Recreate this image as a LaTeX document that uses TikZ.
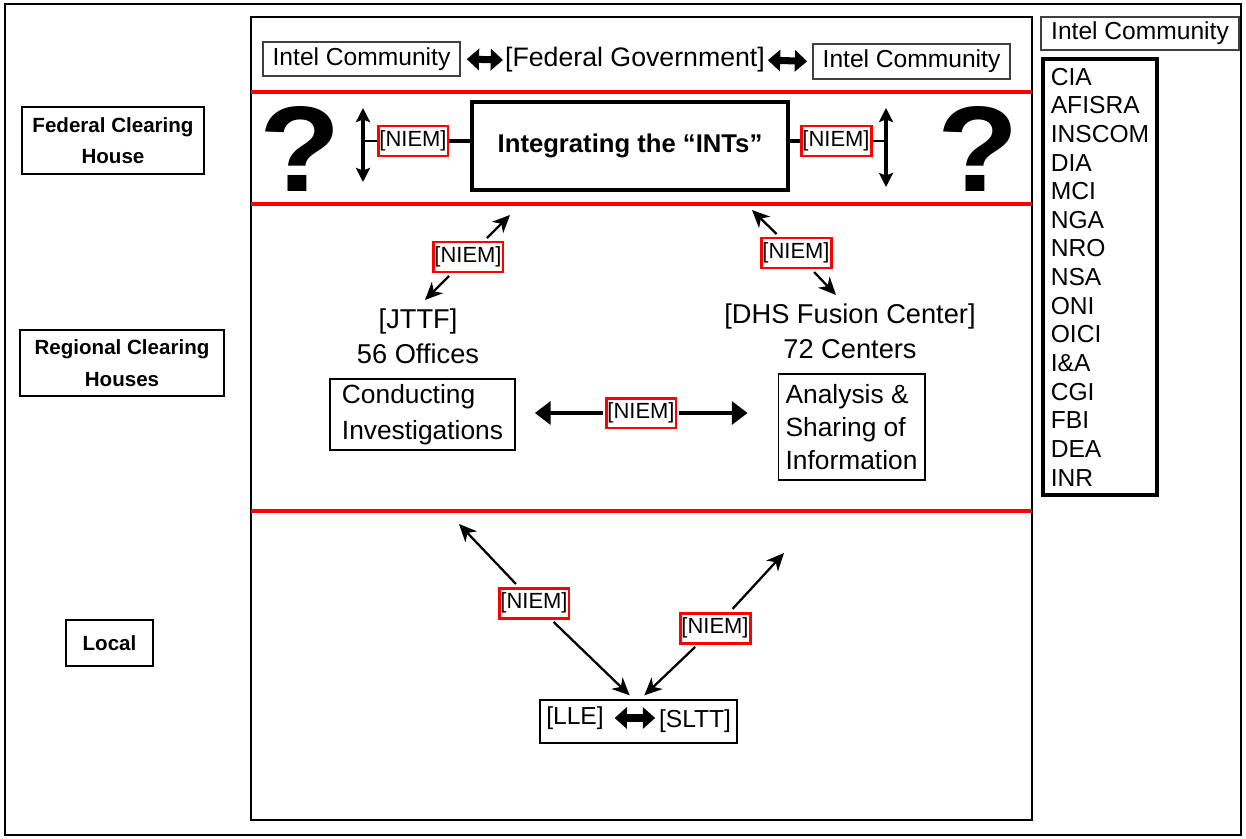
\documentclass[tikz,border=0pt]{standalone}
\usepackage{fontspec}
\setmainfont{Liberation Sans}
\usetikzlibrary{arrows.meta,positioning}

\begin{document}
\begin{tikzpicture}[
    x=0.02cm, y=-0.02cm,
    level/.style={rectangle, draw, line width=1.1pt, align=center, inner sep=0pt, font=\fontsize{11.7}{18}\selectfont\bfseries},
    intel/.style={rectangle, draw=black!75, line width=0.7pt, minimum width=3.94cm, minimum height=0.68cm, inner sep=0pt, font=\fontsize{14}{16}\selectfont},
    niem/.style={rectangle, draw=red, line width=1.7pt, fill=white, minimum width=1.4cm, minimum height=0.6cm, inner sep=0pt, font=\fontsize{12.5}{14}\selectfont},
    txt/.style={inner sep=0pt, align=center, font=\fontsize{15.5}{20}\selectfont},
    boxed/.style={rectangle, draw, line width=0.6pt, align=left, inner sep=0pt, font=\fontsize{15}{20}\selectfont},
    quest/.style={inner sep=0pt, xscale=1.15, yscale=1.05, font=\fontsize{66}{66}\selectfont\bfseries},
    redline/.style={red, line width=2.5pt},
    arrow/.style={line width=1.3pt, -{Stealth[length=10pt,width=9pt,inset=3pt]}},
    both/.style={line width=1.8pt, {Stealth[length=8pt,width=8pt,inset=1.5pt]}-{Stealth[length=8pt,width=8pt,inset=1.5pt]}},
    wide/.style={line width=2.3pt, {Triangle[length=8pt,width=12pt]}-{Triangle[length=8pt,width=12pt]}},
    fat/.style={line width=4pt, {Triangle[length=7pt,width=12pt]}-{Triangle[length=7pt,width=12pt]}}
]
    \useasboundingbox (0,0) rectangle (1246,838);

    % Frames and red dividers
    \draw [line width=1.1pt] (5,4) rectangle (1241,835);
    \draw [line width=1.2pt] (251,17) rectangle (1032,820);
    \draw [redline] (251,92) -- (1032,92);
    \draw [redline] (251,204) -- (1032,204);
    \draw [redline] (251,511) -- (1032,511);

    % Levels
    \node [level, minimum width=3.64cm, minimum height=1.34cm] (fch) at (113,140.5) {Federal Clearing\\House};
    \node [level, minimum width=4.08cm, minimum height=1.32cm] (rch) at (122,363) {Regional Clearing\\Houses};
    \node [level, minimum width=1.74cm, minimum height=0.92cm] (loc) at (109.5,643) {Local};

    % Federal government row
    \node [intel] (icl) at (361.5,59) {Intel Community};
    \node [txt, font=\fontsize{15.2}{18}\selectfont] (fed) at (635,60) {[Federal Government]};
    \node [intel, minimum height=0.7cm] (icr) at (911.5,61.5) {Intel Community};
    \draw [fat, shorten <=3.5pt, shorten >=1pt] (icl.east) -- (fed.west);
    \draw [fat, shorten <=1.5pt, shorten >=3pt] (fed.east) -- (icr.west);

    % Federal clearing house
    \node [quest] (ql) at (300,149) {?};
    \node [quest] (qr) at (978,149) {?};
    \node [rectangle, draw, line width=2.3pt, minimum width=6.32cm, minimum height=1.76cm, inner sep=0pt, font=\fontsize{14.6}{16}\selectfont\bfseries] (ints) at (630,146) {Integrating the “INTs”};
    \node [niem] (niemL) at (413,141) {[NIEM]};
    \node [niem] (niemR) at (836,141) {[NIEM]};
    \coordinate (qa) at (363,108);
    \coordinate (qb) at (363,182);
    \coordinate (qc) at (886,108);
    \coordinate (qd) at (886,187);
    \draw [both] (qa) -- (qb);
    \draw [both] (qc) -- (qd);
    \draw [line width=1.5pt] (niemL.west) -- (niemL.west -| qa);
    \draw [line width=2.3pt] (niemL.east) -- (niemL.east -| ints.west);
    \draw [line width=2.3pt] (niemR.west) -- (niemR.west -| ints.east);
    \draw [line width=1.5pt] (niemR.east) -- (niemR.east -| qc);

    % Regional clearing houses
    \node [niem] (niemA) at (468,257) {[NIEM]};
    \node [niem] (niemB) at (796,253) {[NIEM]};
    \coordinate (aup) at (510,215);
    \coordinate (adn) at (425,300);
    \coordinate (bup) at (752,210);
    \coordinate (bdn) at (836,295);
    \draw [arrow, shorten <=2pt] (niemA) -- (aup);
    \draw [arrow, shorten <=2pt] (niemA) -- (adn);
    \draw [arrow, shorten <=2pt] (niemB) -- (bup);
    \draw [arrow, shorten <=2pt] (niemB) -- (bdn);
    \node [txt] (jttf) at (418,336) {[JTTF]\\56 Offices};
    \node [txt] (dhs) at (850,331) {[DHS Fusion Center]\\72 Centers};
    \node [boxed, minimum width=3.7cm, minimum height=1.42cm, font=\fontsize{15}{20.4}\selectfont] (cond) at (422.5,414.5) {Conducting\\Investigations};
    \node [boxed, minimum width=2.94cm, minimum height=2.12cm, font=\fontsize{15}{19}\selectfont] (anal) at (851.5,427) {Analysis \&\\Sharing of\\Information};
    \node [niem] (niemC) at (641,413) {[NIEM]};
    \draw [wide, -{Triangle[length=9pt,width=13pt]}, shorten <=1pt, shorten >=11pt] (niemC) -- (niemC -| cond.east);
    \draw [wide, -{Triangle[length=9pt,width=13pt]}, shorten <=1pt, shorten >=17pt] (niemC) -- (niemC -| anal.west);

    % Local
    \node [rectangle, draw, line width=1.1pt, minimum width=3.94cm, minimum height=0.86cm, inner sep=0pt] (local) at (638.5,721.5) {};
    \node [inner sep=0pt, font=\fontsize{14}{16}\selectfont] (lle) at (575,718) {[LLE]};
    \node [inner sep=0pt, font=\fontsize{14}{16}\selectfont] (sltt) at (695,721) {[SLTT]};
    \draw [fat, shorten <=6pt, shorten >=2pt] (lle.east) -- (lle.east -| sltt.west);
    \node [niem] (niemD) at (534,603) {[NIEM]};
    \node [niem] (niemE) at (715,628) {[NIEM]};
    \coordinate (dup) at (459,524);
    \coordinate (eup) at (784,553);
    \draw [arrow, shorten <=2pt] (niemD) -- (dup);
    \draw [arrow, shorten <=2pt, shorten >=3pt] (niemD) -- ([xshift=-0.1cm]local.north);
    \draw [arrow, shorten <=2pt] (niemE) -- (eup);
    \draw [arrow, shorten <=2pt, shorten >=3pt] (niemE) -- ([xshift=0.04cm]local.north);

    % Intel community list
    \node [intel, minimum width=3.96cm, minimum height=0.66cm] (icc) at (1140,33.5) {Intel Community};
    \node [rectangle, draw, line width=2.3pt, align=left, minimum width=2.28cm, minimum height=8.72cm, inner sep=0pt, font=\fontsize{14}{16.3}\selectfont] (list) at (1100,277) {CIA\\AFISRA\\INSCOM\\DIA\\MCI\\NGA\\NRO\\NSA\\ONI\\OICI\\I\&A\\CGI\\FBI\\DEA\\INR};
\end{tikzpicture}
\end{document}
